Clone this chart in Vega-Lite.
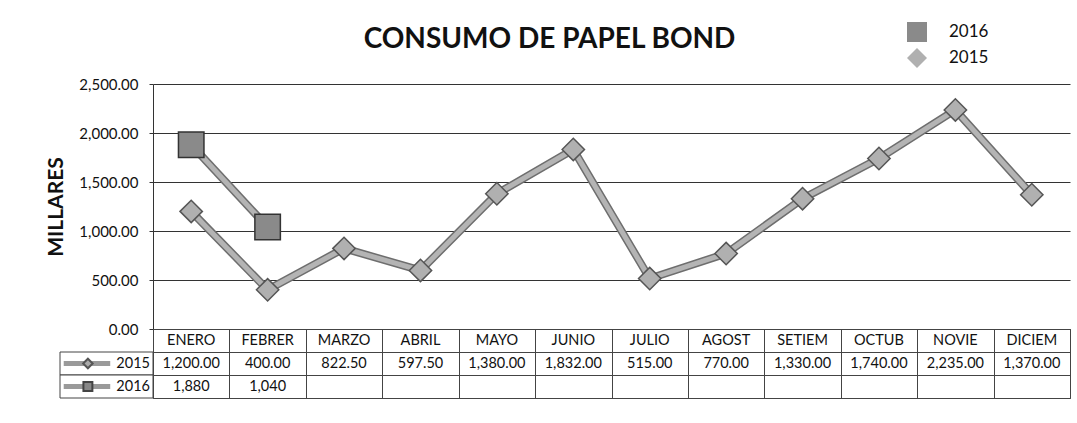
{
  "$schema": "https://vega.github.io/schema/vega-lite/v6.json",
  "background": "white",
  "padding": {"left": 45, "top": 21, "right": 5, "bottom": 20},
  "bounds": "flush",
  "config": {"font": "Lato", "concat": {"spacing": 0}, "text": {"font": "Lato"}},
  "title": {"text": "CONSUMO DE PAPEL BOND", "fontSize": 28, "fontWeight": "bold", "color": "#111", "anchor": "middle", "frame": "group", "offset": -33, "dx": -62, "font": "Lato"},
  "datasets": {
    "consumo": [
      {"mes": "ENERO", "anio": "2015", "valor": 1200},
      {"mes": "FEBRER", "anio": "2015", "valor": 400},
      {"mes": "MARZO", "anio": "2015", "valor": 822.5},
      {"mes": "ABRIL", "anio": "2015", "valor": 597.5},
      {"mes": "MAYO", "anio": "2015", "valor": 1380},
      {"mes": "JUNIO", "anio": "2015", "valor": 1832},
      {"mes": "JULIO", "anio": "2015", "valor": 515},
      {"mes": "AGOST", "anio": "2015", "valor": 770},
      {"mes": "SETIEM", "anio": "2015", "valor": 1330},
      {"mes": "OCTUB", "anio": "2015", "valor": 1740},
      {"mes": "NOVIE", "anio": "2015", "valor": 2235},
      {"mes": "DICIEM", "anio": "2015", "valor": 1370},
      {"mes": "ENERO", "anio": "2016", "valor": 1880},
      {"mes": "FEBRER", "anio": "2016", "valor": 1040}
    ]
  },
  "vconcat": [
    {
      "width": 917,
      "height": 245,
      "view": {"stroke": null},
      "data": {"name": "consumo"},
      "encoding": {
        "x": {"field": "mes", "type": "nominal", "scale": {"type": "point", "padding": 0.5, "domain": ["ENERO", "FEBRER", "MARZO", "ABRIL", "MAYO", "JUNIO", "JULIO", "AGOST", "SETIEM", "OCTUB", "NOVIE", "DICIEM"]}, "axis": null},
        "y": {"field": "valor", "type": "quantitative", "scale": {"domain": [0, 2500], "nice": false},
          "axis": {"values": [0, 500, 1000, 1500, 2000, 2500], "format": ",.2f", "title": "MILLARES", "titleFontSize": 21, "titleFontWeight": "bold", "titleColor": "#111", "titlePadding": 12, "labelFontSize": 15, "labelColor": "#111", "labelPadding": 11, "tickSize": 4, "tickColor": "#333", "domainColor": "#333", "gridColor": "#333", "gridOpacity": 1, "grid": true}}
      },
      "layer": [
        {"mark": {"type": "line", "strokeWidth": 8, "color": "#6e6e6e"}, "encoding": {"detail": {"field": "anio"}}},
        {"mark": {"type": "line", "strokeWidth": 5, "color": "#b4b4b4"}, "encoding": {"detail": {"field": "anio"}}},
        {
          "transform": [{"filter": "datum.anio === '2015'"}],
          "mark": {"type": "point", "filled": true, "opacity": 1, "stroke": "#555", "strokeWidth": 1.5, "size": 500},
          "encoding": {
            "shape": {"field": "anio", "type": "nominal", "scale": {"domain": ["2016", "2015"], "range": ["square", "diamond"]},
              "legend": {"title": null, "orient": "none", "legendX": 753, "legendY": -63, "labelFontSize": 17, "labelColor": "#111", "symbolSize": 400, "symbolStrokeColor": "#444", "symbolStrokeWidth": 1.5, "rowPadding": 0, "labelOffset": 21}},
            "fill": {"field": "anio", "type": "nominal", "scale": {"domain": ["2016", "2015"], "range": ["#8a8a8a", "#b0b0b0"]},
              "legend": {"title": null, "orient": "none", "legendX": 753, "legendY": -63, "labelFontSize": 17, "labelColor": "#111", "symbolSize": 400, "symbolStrokeColor": "#444", "symbolStrokeWidth": 1.5, "rowPadding": 0, "labelOffset": 21}}
          }
        },
        {
          "transform": [{"filter": "datum.anio === '2016'"}],
          "mark": {"type": "point", "filled": true, "opacity": 1, "stroke": "#333", "strokeWidth": 1.5, "size": 650},
          "encoding": {
            "shape": {"field": "anio", "type": "nominal"},
            "fill": {"field": "anio", "type": "nominal"}
          }
        }
      ]
    },
    {
      "width": 917,
      "height": 69,
      "view": {"stroke": "#444"},
      "data": {"name": "consumo"},
      "resolve": {"scale": {"x": "independent"}},
      "layer": [
        {
          "encoding": {
            "x": {"field": "mes", "type": "nominal", "scale": {"type": "band", "paddingInner": 0, "paddingOuter": 0, "domain": ["ENERO", "FEBRER", "MARZO", "ABRIL", "MAYO", "JUNIO", "JULIO", "AGOST", "SETIEM", "OCTUB", "NOVIE", "DICIEM"]},
              "axis": {"grid": true, "tickBand": "extent", "labels": false, "ticks": false, "domain": false, "title": null, "gridColor": "#444", "gridOpacity": 1}}
          },
          "layer": [
            {
              "transform": [{"filter": "datum.anio === '2015'"}],
              "mark": {"type": "text", "fontSize": 14.5, "color": "#111"},
              "encoding": {
                "y": {"datum": "MES", "type": "nominal", "scale": {"type": "band", "paddingInner": 0, "paddingOuter": 0, "domain": ["MES", "2015", "2016"]},
                  "axis": {"grid": true, "tickBand": "extent", "labels": false, "ticks": false, "domain": false, "title": null, "gridColor": "#444", "gridOpacity": 1}},
                "text": {"field": "mes"}
              }
            },
            {
              "transform": [{"filter": "datum.anio === '2015'"}],
              "mark": {"type": "text", "fontSize": 14.5, "color": "#111"},
              "encoding": {
                "y": {"field": "anio", "type": "nominal"},
                "text": {"field": "valor", "type": "quantitative", "format": ",.2f"}
              }
            },
            {
              "transform": [{"filter": "datum.anio === '2016'"}],
              "mark": {"type": "text", "fontSize": 14.5, "color": "#111"},
              "encoding": {
                "y": {"field": "anio", "type": "nominal"},
                "text": {"field": "valor", "type": "quantitative", "format": ","}
              }
            }
          ]
        },
        {
          "transform": [{"aggregate": [{"op": "count", "as": "n"}], "groupby": ["anio"]}],
          "layer": [
            {
              "mark": {"type": "rect", "fill": "white", "stroke": "#444", "strokeWidth": 1},
              "encoding": {
                "x": {"datum": 0, "type": "quantitative", "scale": {"domain": [0, 1], "range": [-93, 0]}, "axis": null},
                "x2": {"datum": 1},
                "y": {"field": "anio", "type": "nominal"}
              }
            },
            {
              "mark": {"type": "rule", "strokeWidth": 5, "color": "#9a9a9a"},
              "encoding": {
                "x": {"datum": 0.04, "type": "quantitative", "scale": {"domain": [0, 1], "range": [-93, 0]}, "axis": null},
                "x2": {"datum": 0.54},
                "y": {"field": "anio", "type": "nominal"}
              }
            },
            {
              "transform": [{"filter": "datum.anio === '2015'"}],
              "mark": {"type": "point", "shape": "diamond", "filled": true, "fill": "#aaa", "stroke": "#555", "size": 90, "opacity": 1},
              "encoding": {
                "x": {"datum": 0.3, "type": "quantitative", "scale": {"domain": [0, 1], "range": [-93, 0]}, "axis": null},
                "y": {"field": "anio", "type": "nominal"}
              }
            },
            {
              "transform": [{"filter": "datum.anio === '2016'"}],
              "mark": {"type": "point", "shape": "square", "filled": true, "fill": "#888", "stroke": "#444", "size": 80, "opacity": 1},
              "encoding": {
                "x": {"datum": 0.3, "type": "quantitative", "scale": {"domain": [0, 1], "range": [-93, 0]}, "axis": null},
                "y": {"field": "anio", "type": "nominal"}
              }
            },
            {
              "mark": {"type": "text", "fontSize": 14.5, "color": "#111", "align": "right", "dx": -3},
              "encoding": {
                "x": {"datum": 1, "type": "quantitative", "scale": {"domain": [0, 1], "range": [-93, 0]}, "axis": null},
                "y": {"field": "anio", "type": "nominal"},
                "text": {"field": "anio"}
              }
            }
          ]
        }
      ]
    }
  ]
}
